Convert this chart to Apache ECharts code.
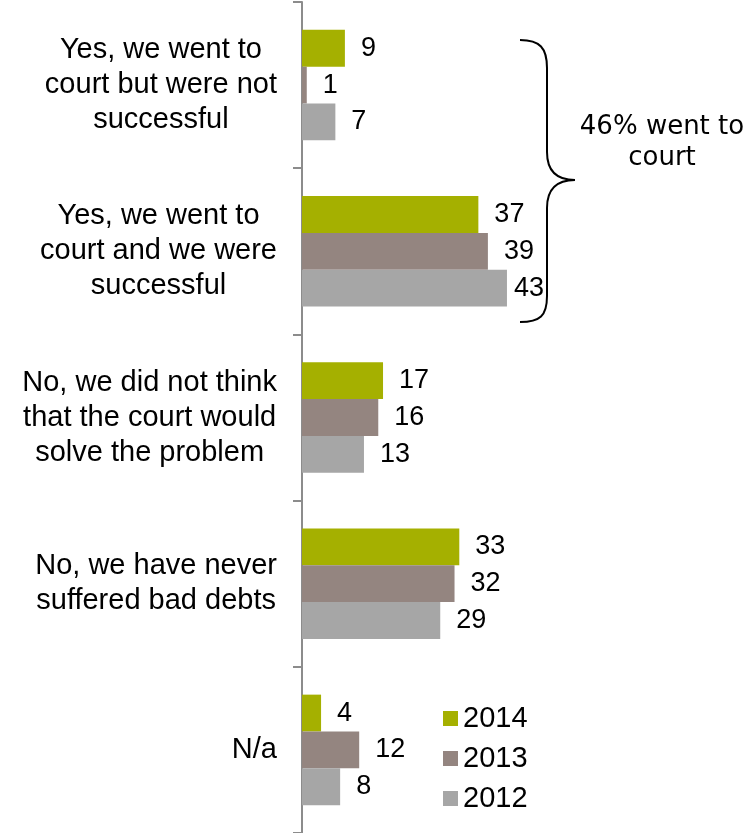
<!DOCTYPE html>
<html>
<head>
<meta charset="utf-8">
<script src="https://cdn.jsdelivr.net/npm/echarts@6/dist/echarts.min.js"></script>
<style>
  html, body { margin: 0; padding: 0; background: #ffffff; }
  #chart { width: 750px; height: 833px; }
</style>
</head>
<body>
<div id="chart"></div>
<script>
// Survey answers, top to bottom
const categories = [
  'Yes, we went to\ncourt but were not\nsuccessful',
  'Yes, we went to\ncourt and we were\nsuccessful',
  'No, we did not think\nthat the court would\nsolve the problem',
  'No, we have never\nsuffered bad debts',
  'N/a'
];
const years = ['2014', '2013', '2012'];
const values2014 = [9, 37, 17, 33, 4];
const values2013 = [1, 39, 16, 32, 12];
const values2012 = [7, 43, 13, 29, 8];
const braceNote = '46% went to\ncourt';

const colors = { '2014': '#A5B000', '2013': '#948580', '2012': '#A6A6A6' };
const seriesValues = { '2014': values2014, '2013': values2013, '2012': values2012 };

const chart = echarts.init(document.getElementById('chart'), null, { renderer: 'canvas' });

const FONT = "'Liberation Sans', Arial, sans-serif";

const series = years.map(y => ({
  name: y,
  type: 'bar',
  // the longest bar's label sits tucked in before the brace
  data: seriesValues[y].map((v, i) =>
    (y === '2012' && i === 1) ? { value: v, label: { distance: 7 } } : v),
  barGap: '0%',
  barCategoryGap: '33.5%',
  itemStyle: { color: colors[y] },
  label: {
    show: true,
    position: 'right',
    distance: 16,
    color: '#000',
    fontFamily: FONT,
    fontSize: 27
  }
}));

// Curly brace grouping the two "went to court" answers
const braceStyle = { stroke: '#000', lineWidth: 2, fill: null };
const curve = (x1, y1, cx1, cy1, cx2, cy2, x2, y2) => ({
  type: 'bezierCurve',
  shape: { x1, y1, cpx1: cx1, cpy1: cy1, cpx2: cx2, cpy2: cy2, x2, y2 },
  style: braceStyle
});
const segment = (x1, y1, x2, y2) => ({
  type: 'line',
  shape: { x1, y1, x2, y2 },
  style: braceStyle
});

chart.setOption({
  animation: false,
  backgroundColor: '#ffffff',
  grid: { left: 302, top: 2, width: 429, height: 834, containLabel: false },
  xAxis: {
    type: 'value',
    min: 0,
    max: 90,
    show: false
  },
  yAxis: {
    type: 'category',
    inverse: true,
    data: categories,
    axisLine: { show: true, lineStyle: { color: '#8C8C8C', width: 2 } },
    axisTick: { show: true, length: 9, lineStyle: { color: '#8C8C8C', width: 2 } },
    axisLabel: {
      margin: 25,
      align: 'right',
      formatter: v => v.split('\n').map(l => '{c|' + l + '}').join('\n'),
      rich: {
        c: { align: 'center', fontFamily: FONT, fontSize: 29, lineHeight: 35, color: '#000' }
      }
    },
    splitLine: { show: false }
  },
  legend: {
    orient: 'vertical',
    left: 443,
    top: 703,
    padding: 0,
    icon: 'rect',
    itemWidth: 15,
    itemHeight: 15,
    itemGap: 9,
    data: years,
    textStyle: { fontFamily: FONT, fontSize: 29, color: '#000', lineHeight: 31 }
  },
  series: series,
  graphic: [
    curve(520, 40, 540, 40, 547, 48, 547, 68),
    segment(547, 68, 547, 152),
    curve(547, 152, 547, 170, 556, 180, 575, 180),
    curve(575, 180, 556, 180, 547, 190, 547, 208),
    segment(547, 208, 547, 296),
    curve(547, 296, 547, 316, 540, 322, 520, 322),
    {
      type: 'text',
      x: 662,
      y: 112,
      style: {
        text: braceNote,
        font: "26px 'DejaVu Sans', Tahoma, sans-serif",
        lineHeight: 31,
        fill: '#000',
        align: 'center'
      }
    }
  ]
});
</script>
</body>
</html>
